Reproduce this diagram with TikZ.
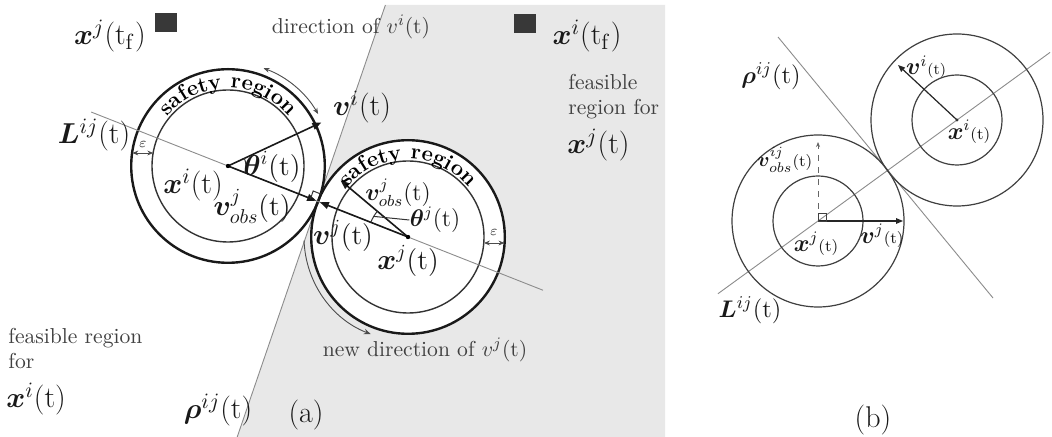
\documentclass[tikz,border=0pt]{standalone}
\usepackage{bm}
\usetikzlibrary{calc,arrows.meta,decorations.text}
\begin{document}
\begin{tikzpicture}[x=0.5pt,y=0.5pt,
  outerc/.style={draw=black!90,line width=1.2pt},
  innerc/.style={draw=black!80,line width=0.7pt},
  thinl/.style={draw=black!45,line width=0.45pt},
  vecarrow/.style={draw=black!90,line width=0.8pt,-{Triangle[length=4.5pt,width=3.5pt]}},
  bvec/.style={draw=black!85,line width=0.6pt,-{Triangle[length=3.5pt,width=2.8pt]}},
  smallarr/.style={draw=black!70,line width=0.45pt,{Stealth[length=3pt,width=2.4pt]}-{Stealth[length=3pt,width=2.4pt]}},
  onearr/.style={draw=black!70,line width=0.45pt,-{Stealth[length=3.5pt,width=2.8pt]}},
  thinblk/.style={draw=black!80,line width=0.5pt},
  biglab/.style={inner sep=0pt,text=black!90,font=\fontsize{15}{17}\selectfont},
  midlab/.style={inner sep=0pt,text=black!90,font=\fontsize{14}{16}\selectfont},
  smlab/.style={inner sep=0pt,text=black!90,font=\fontsize{12}{14}\selectfont},
  desc/.style={inner sep=0pt,text=black!75,font=\fontsize{10.8}{12.5}\selectfont},
  blab/.style={inner sep=0pt,text=black!90,font=\fontsize{11.5}{13}\selectfont},
  bcirc/.style={draw=black!75,line width=0.6pt},
  epslab/.style={inner sep=0pt,text=black!80,font=\fontsize{7}{8}\selectfont},
  sqmark/.style={fill=black!78,inner sep=0pt,minimum width=11pt,minimum height=9.5pt},
]
\useasboundingbox (0,0) rectangle (1052,-437);
\fill[white] (0,0) rectangle (1052,-437);

% ---------- panel (a) geometry ----------
\coordinate (Ci) at (228,-166);
\coordinate (Cj) at (408,-237);
\coordinate (T) at ($(Ci)!0.5!(Cj)$);
\coordinate (rhoTop) at ($(T)+(67.4,196.5)$);
\coordinate (rhoBot) at ($(T)+(-80.8,-235.5)$);
\coordinate (Ls) at ($(Ci)!-0.76!(Cj)$);
\coordinate (Le) at ($(Ci)!1.75!(Cj)$);

\fill[black!9] (rhoTop) -- (665,-5) -- (665,-437) -- (rhoBot) -- cycle;
\draw[thinl] (rhoTop) -- (rhoBot);
\fill[white] (Cj) circle (96.8);

\draw[outerc] (Ci) circle (96.8);
\draw[innerc] (Ci) circle (76);
\draw[outerc] (Cj) circle (96.8);
\draw[innerc] (Cj) circle (76);

\draw[thinl] (Ls) -- (Le);

% vectors
\coordinate (viend) at ($(Ci)+(25:103)$);
\coordinate (vjoend) at ($(Cj)+(140:88)$);
\draw[vecarrow] (Ci) -- (viend);
\draw[vecarrow,shorten >=1pt] (Ci) -- (T);
\draw[vecarrow,shorten >=1pt] (Cj) -- (T);
\draw[vecarrow] (Cj) -- (vjoend);
\fill (Ci) circle (2.2);
\fill (Cj) circle (2.2);

% right angle mark at tangent point
\draw[thinblk] ($(T)+(-7.44,2.94)$) -- ++(2.60,7.57) -- ++(7.44,-2.94);

% angles
\draw[thinblk] ($(Ci)+(-21.5:18)$) arc[start angle=-21.5,end angle=25,radius=18];
\draw[thinblk] ($(Cj)+(140:40)$) arc[start angle=140,end angle=158.5,radius=40];
\coordinate (thjarc) at ($(Cj)+(149:40)$);

% direction arcs
\draw[smallarr] ($(Ci)+(30:104)$) arc[start angle=30,end angle=70,radius=104];
\draw[onearr] ($(Cj)+(182:104)$) arc[start angle=182,end angle=249,radius=104];

% epsilon arrows
\draw[smallarr] ($(Ci)+(-95.7,13)$) -- ($(Ci)+(-74.7,13)$);
\draw[smallarr] ($(Cj)+(75.9,-6)$) -- ($(Cj)+(96.5,-6)$);
\node[epslab] (epsi) at ($(Ci)+(-85,22)$) {$\varepsilon$};
\node[epslab] (epsj) at ($(Cj)+(86,5)$) {$\varepsilon$};

% safety region texts
\path[decorate,decoration={text along path,text align=center,
  text={|\fontsize{11}{13}\selectfont\bfseries|safety region}}]
  ($(Ci)+(150:78)$) arc[start angle=150,end angle=30,radius=78];
\path[decorate,decoration={text along path,text align=center,
  text={|\fontsize{11}{13}\selectfont\bfseries|safety region}}]
  ($(Cj)+(150:78)$) arc[start angle=150,end angle=30,radius=78];

% labels (a)
\node[biglab] (xjtf) at (110,-36) {$\bm{x}^{j}$(t$_\mathrm{f}$)};
\node[sqmark] (sqj) at (166,-22.5) {};
\node[sqmark] (sqi) at (525,-24) {};
\node[biglab] (xitf) at (587,-36) {$\bm{x}^{i}$(t$_\mathrm{f}$)};
\node[desc] (dirtxt) at (351,-27) {direction of $v^{i}$(t)};
\node[biglab] (vilab) at (362,-107) {$\bm{v}^{i}$(t)};
\node[biglab] (Llab) at (94,-135) {$\bm{L}^{ij}$(t)};
\node[midlab] (thilab) at (272,-167) {$\bm{\theta}^{i}$(t)};
\node[biglab] (xilab) at (193,-185) {$\bm{x}^{i}$(t)};
\node[midlab] (vjobsa) at (252,-206) {$\bm{v}^{j}_{obs}$(t)};
\node[smlab] (vjobsb) at (398,-193) {$\bm{v}^{j}_{obs}$(t)};
\node[smlab] (thjlab) at (435,-220) {$\bm{\theta}^{j}$(t)};
\draw[thinblk] (thjarc) -- (thjlab.west);
\node[midlab] (vjlab) at (343,-236) {$\bm{v}^{j}$(t)};
\node[midlab] (xjlab) at (408,-261) {$\bm{x}^{j}$(t)};
\node[desc] (newdir) at (425,-350) {new direction of $v^{j}$(t)};
\node[desc,anchor=west,align=left] (frj) at (568,-97) {feasible\\region for};
\node[biglab,anchor=west] (xjfr) at (567,-145) {$\bm{x}^{j}$(t)};
\node[desc,anchor=west,align=left] (fri) at (8,-349) {feasible region\\for};
\node[biglab,anchor=west] (xifr) at (6,-399) {$\bm{x}^{i}$(t)};
\node[biglab] (rhoa) at (218,-410) {$\bm{\rho}^{ij}$(t)};
\node[biglab] (pa) at (306,-415) {(a)};

% ---------- panel (b) ----------
\coordinate (Bi) at (957,-120);
\coordinate (Bj) at (818,-221);
\coordinate (BLs) at ($(Bj)!-0.72!(Bi)$);
\coordinate (BLe) at ($(Bj)!1.669!(Bi)$);
\coordinate (Brt) at (778,-37);
\coordinate (Brb) at (993,-298);
\coordinate (bvi) at (898,-65);
\coordinate (bvj) at (903,-221);
\coordinate (bobs) at (818,-142);

\draw[thinl] (BLs) -- (BLe);
\draw[thinl] (Brt) -- (Brb);
\draw[bcirc] (Bi) circle (86);
\draw[bcirc] (Bi) circle (45);
\draw[bcirc] (Bj) circle (86);
\draw[bcirc] (Bj) circle (45);
\draw[bvec] (Bi) -- (bvi);
\draw[bvec] (Bj) -- (bvj);
\draw[draw=black!60,line width=0.45pt,dashed,-{Stealth[length=2.5pt,width=2pt]}] (Bj) -- (bobs);
\draw[draw=black!75,line width=0.45pt] (Bj) rectangle ++(8,8);
\fill[black!80] (Bi) circle (1.6);

\node[blab,font=\fontsize{12.5}{14}\selectfont] (rhob) at (771,-76) {$\bm{\rho}^{ij}$(t)};
\node[blab] (vib) at (926,-67) {$\bm{v}^{i}${\fontsize{7.5}{9}\selectfont(t)}};
\node[blab] (xib) at (969,-132) {$\bm{x}^{i}${\fontsize{8}{9}\selectfont(t)}};
\node[blab,font=\fontsize{10}{12}\selectfont] (vobsb) at (785,-160) {$\bm{v}^{ij}_{obs}${\fontsize{8}{9}\selectfont(t)}};
\node[blab] (xjb) at (816,-244) {$\bm{x}^{j}${\fontsize{8}{9}\selectfont(t)}};
\node[blab] (vjb) at (882,-236) {$\bm{v}^{j}${\fontsize{8}{9}\selectfont(t)}};
\node[blab,font=\fontsize{12.5}{14}\selectfont] (Lb) at (750,-310) {$\bm{L}^{ij}$(t)};
\node[biglab] (pb) at (873,-420) {(b)};
\end{tikzpicture}
\end{document}
